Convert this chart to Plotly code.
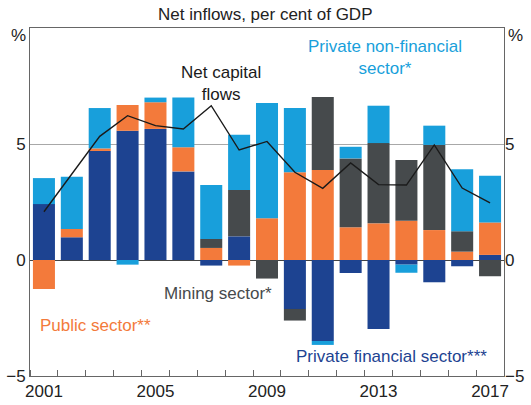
import plotly.graph_objects as go

years = list(range(2001, 2018))
private_financial = [2.41, 0.98, 4.70, 5.57, 5.65, 3.82, -0.24, 1.02, 0.0, -2.11, -3.49, -0.56, -2.97, -0.20, -0.96, -0.27, 0.22]
public_sector = [-1.25, 0.36, 0.11, 1.11, 1.15, 1.04, 0.52, -0.24, 1.80, 3.78, 3.88, 1.41, 1.58, 1.69, 1.29, 0.36, 1.40]
mining_sector = [0.0, 0.0, 0.0, 0.0, 0.0, 0.0, 0.39, 2.00, -0.80, -0.50, 3.15, 2.97, 3.46, 2.62, 3.67, 0.88, -0.70]
private_nonfin = [1.12, 2.25, 1.74, -0.20, 0.20, 2.14, 2.32, 2.38, 4.97, 2.77, -0.17, 0.50, 1.61, -0.35, 0.83, 2.67, 2.01]
net_capital = [2.08, 3.70, 5.33, 6.22, 5.79, 5.65, 6.65, 4.74, 5.11, 3.78, 3.09, 4.18, 3.25, 3.23, 4.96, 3.10, 2.46]
x_ticks = [2001, 2005, 2009, 2013, 2017]
y_ticks = [-5, 0, 5]

C_FIN = "#1d4391"
C_PUB = "#f37a3b"
C_MIN = "#464a4c"
C_NONFIN = "#189fdb"
FONT = "Liberation Sans, Arial, sans-serif"

fig = go.Figure()
for name, vals, col in [("Private financial sector", private_financial, C_FIN),
                        ("Public sector", public_sector, C_PUB),
                        ("Mining sector", mining_sector, C_MIN),
                        ("Private non-financial sector", private_nonfin, C_NONFIN)]:
    fig.add_trace(go.Bar(x=years, y=vals, name=name, marker=dict(color=col, line=dict(width=0))))

fig.add_trace(go.Scatter(x=years, y=net_capital, mode="lines", name="Net capital flows",
                         line=dict(color="#1a1a1a", width=1.4)))
fig.add_trace(go.Scatter(x=[years[0]], y=[None], yaxis="y2", showlegend=False, hoverinfo="skip"))

fig.update_layout(
    width=531, height=405, autosize=False,
    margin=dict(l=30, r=27, t=28, b=29),
    barmode="relative", bargap=0.21,
    plot_bgcolor="white", paper_bgcolor="white",
    showlegend=False,
    font=dict(family=FONT, size=17, color="#222"),
    xaxis=dict(range=[2000.5, 2017.5], tickvals=x_ticks, ticks="", showgrid=False, automargin=False,
               showline=True, linecolor="#666", linewidth=1, mirror=True,
               tickfont=dict(size=17, color="#222"),
               minor=dict(tick0=2001.5, dtick=1, ticks="inside", ticklen=6, tickcolor="#666", showgrid=False)),
    yaxis=dict(range=[-5, 10], tickvals=y_ticks, ticks="", showgrid=True, gridcolor="#a8a8a8",
               zeroline=True, zerolinecolor="#444", zerolinewidth=1, automargin=False,
               showline=True, linecolor="#666", linewidth=1, mirror=True,
               tickfont=dict(size=17, color="#222")),
    yaxis2=dict(range=[-5, 10], tickvals=y_ticks, overlaying="y", side="right", showgrid=False,
                zeroline=False, showline=False, ticks="", automargin=False,
                tickfont=dict(size=17, color="#222")),
)

def px_to_paper(px, py):
    return (px - 30) / 474.0, (376 - py) / 348.0

annots = [
    ("Net inflows, per cent of GDP", 265, 14, "#222"),
    ("%", 18, 36, "#222"),
    ("%", 515, 36, "#222"),
    ("Net capital<br>flows", 221, 83, "#1a1a1a"),
    ("Private non-financial<br>sector*", 385, 58, C_NONFIN),
    ("Mining sector*", 218, 293, C_MIN),
    ("Public sector**", 95, 325, C_PUB),
    ("Private financial sector***", 391, 356, C_FIN),
]
for text, px, py, col in annots:
    xp, yp = px_to_paper(px, py)
    fig.add_annotation(text=text, x=xp, y=yp, xref="paper", yref="paper", showarrow=False,
                       xanchor="center", yanchor="middle", font=dict(size=17, color=col, family=FONT))

fig.write_html("out.html", config={"displayModeBar": False},
               post_script="document.body.style.margin='0';document.body.style.overflow='hidden';")
